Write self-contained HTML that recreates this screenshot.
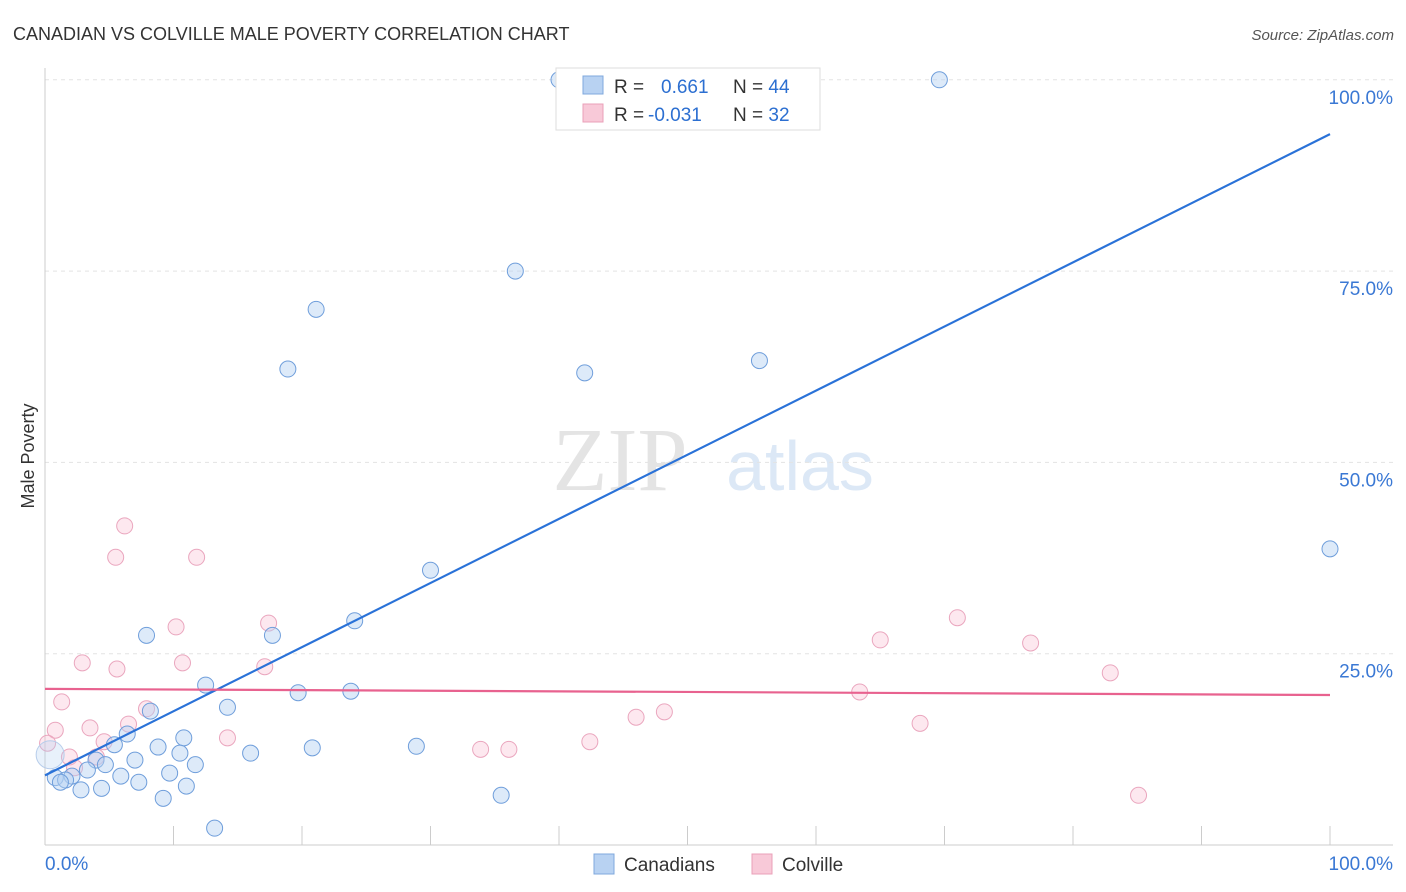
<!DOCTYPE html>
<html><head><meta charset="utf-8">
<style>
body{margin:0;background:#fff;font-family:"Liberation Sans",sans-serif;}
svg{display:block}
</style></head>
<body>
<svg id="chart" width="1406" height="892" xmlns="http://www.w3.org/2000/svg">
<text x="13" y="40" font-size="18" fill="#333">CANADIAN VS COLVILLE MALE POVERTY CORRELATION CHART</text>
<text x="1394" y="40" font-size="15" fill="#555" font-style="italic" text-anchor="end">Source: ZipAtlas.com</text>
<text x="620" y="490" font-size="90" fill="#e4e4e4" font-family="Liberation Serif" text-anchor="middle">ZIP</text>
<text x="800" y="490" font-size="70" fill="#dce8f6" text-anchor="middle">atlas</text>
<g id="grid"></g><g id="axes"></g><g id="marks"></g>
<text transform="translate(34,456) rotate(-90)" font-size="18" fill="#333" text-anchor="middle">Male Poverty</text>
<g>
<rect x="556" y="68" width="264" height="62" fill="#fff" stroke="#ddd"/>
<rect x="583" y="76" width="20" height="18" fill="#b8d2f2" stroke="#7fa8dd"/>
<rect x="583" y="104" width="20" height="18" fill="#f8c9d8" stroke="#eaa0b8"/>
<text x="614" y="93" font-size="19" fill="#333">R = <tspan x="661" fill="#2c6fd1">0.661</tspan><tspan x="733" fill="#333">N = </tspan><tspan fill="#2c6fd1">44</tspan></text>
<text x="614" y="121" font-size="19" fill="#333">R = <tspan x="648" fill="#2c6fd1">-0.031</tspan><tspan x="733" fill="#333">N = </tspan><tspan fill="#2c6fd1">32</tspan></text>
</g>
<g>
<rect x="594" y="854" width="20" height="20" fill="#b8d2f2" stroke="#7fa8dd"/>
<text x="624" y="871" font-size="19" fill="#333">Canadians</text>
<rect x="752" y="854" width="20" height="20" fill="#f8c9d8" stroke="#eaa0b8"/>
<text x="782" y="871" font-size="19" fill="#333">Colville</text>
</g>
</svg>
<script>
const canX=[40,69.6,36.6,21.1,18.9,42,55.6,100,30,24.1,7.9,17.7,12.5,19.7,23.8,14.2,8.2,6.4,10.8,5.4,8.8,20.8,28.9,16,10.5,3.97,7,4.7,11.7,3.3,9.7,5.9,2.1,0.8,1.6,7.3,1.2,11,4.4,2.8,9.2,35.5,13.2,0.4];
const canY=[100,100,75,70,62.2,61.7,63.3,38.7,35.9,29.3,27.4,27.4,20.9,19.9,20.1,18,17.5,14.5,14,13.1,12.8,12.7,12.9,12,12,11.1,11.1,10.5,10.5,9.8,9.4,9,9,8.8,8.5,8.2,8.2,7.7,7.4,7.2,6.1,6.5,2.2,11.8];
const colX=[6.2,5.5,11.8,17.4,10.2,71,65,76.7,2.9,10.7,5.6,17.1,82.9,63.4,1.3,7.9,48.2,46,68.1,6.5,0.8,3.5,14.2,4.6,0.2,42.4,33.9,36.1,1.9,4,2.3,85.1];
const colY=[41.7,37.6,37.6,29,28.5,29.7,26.8,26.4,23.8,23.8,23,23.3,22.5,20,18.7,17.8,17.4,16.7,15.9,15.8,15,15.3,14,13.5,13.3,13.5,12.5,12.5,11.5,11.5,10.1,6.5];
const canLine=[9.1,92.9];
const colLine=[20.4,19.6];
const yTicks=[25,50,75,100];
const yTickLabels=["25.0%","50.0%","75.0%","100.0%"];
const xTicks=[0,10,20,30,40,50,60,70,80,90,100];
const NS="http://www.w3.org/2000/svg";
const sx=v=>45+v*12.85, sy=v=>845-v*7.652;
function mk(tag,attrs,parent){const e=document.createElementNS(NS,tag);for(const k in attrs)e.setAttribute(k,attrs[k]);document.getElementById(parent).appendChild(e);return e;}
yTicks.forEach((t,i)=>{
 const g=mk('line',{x1:45,x2:1393,y1:sy(t),y2:sy(t),stroke:'#e3e3e3','stroke-dasharray':'4,4'},'grid');
 
 
 const l=mk('text',{x:1393,y:sy(t)+24,'font-size':19,fill:'#3a78d4','text-anchor':'end'},'axes');
 l.textContent=yTickLabels[i];
 
 
});
const ax=mk('line',{x1:45,x2:1393,y1:845,y2:845,stroke:'#ccc'},'axes');


const ay=mk('line',{x1:45,x2:45,y1:68,y2:845,stroke:'#ccc'},'axes');


xTicks.forEach(t=>{const e=mk('line',{x1:sx(t),x2:sx(t),y1:826,y2:845,stroke:'#ccc'},'axes');
 
 });
const x0=mk('text',{x:45,y:870,'font-size':19,fill:'#3a78d4'},'axes');x0.textContent='0.0%';


const x1=mk('text',{x:1393,y:870,'font-size':19,fill:'#3a78d4','text-anchor':'end'},'axes');x1.textContent='100.0%';


colX.forEach((x,i)=>{const c=mk('circle',{cx:sx(x),cy:sy(colY[i]),r:8,fill:'rgba(248,190,210,0.35)',stroke:'#eaa6be','stroke-width':1},'marks');
 
 });
canX.forEach((x,i)=>{const big=i===canX.length-1;const c=mk('circle',{cx:sx(x),cy:sy(canY[i]),r:big?14:8,fill:big?'rgba(180,208,242,0.3)':'rgba(180,208,242,0.45)',stroke:big?'#b7cdeb':'#6f9edb','stroke-width':1},'marks');
 
 });
const bl=mk('line',{x1:sx(0),y1:sy(canLine[0]),x2:sx(100),y2:sy(canLine[1]),stroke:'#2a72d8','stroke-width':2.2},'marks');


const pl=mk('line',{x1:sx(0),y1:sy(colLine[0]),x2:sx(100),y2:sy(colLine[1]),stroke:'#e8628f','stroke-width':2.2},'marks');


</script>
</body></html>
